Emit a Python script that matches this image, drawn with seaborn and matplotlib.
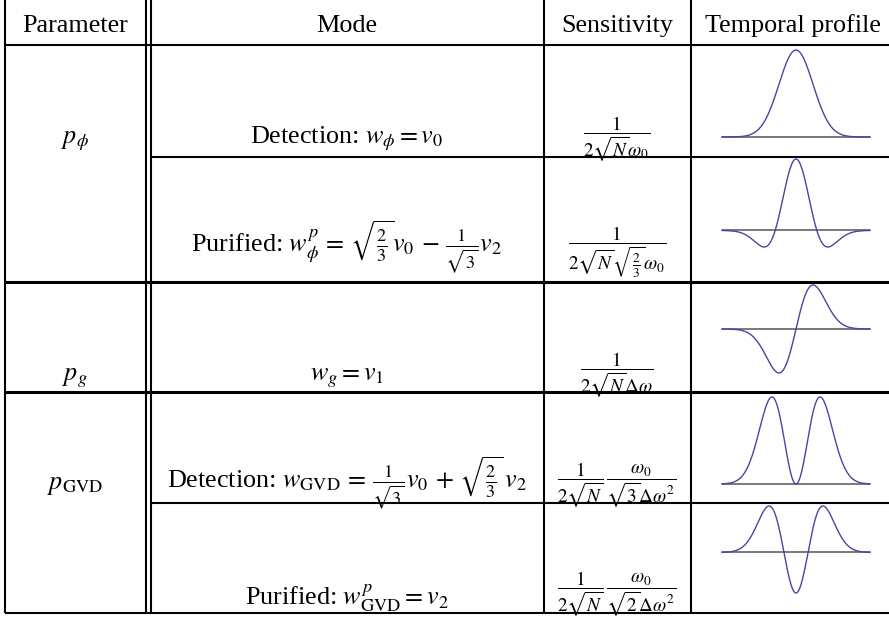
import numpy as np
import matplotlib
matplotlib.use("Agg")
import matplotlib.pyplot as plt
import seaborn as sns

# table content
headers = ["Parameter", "Mode", "Sensitivity", "Temporal profile"]
params = [r"$p_\phi$", r"$p_g$", r"$p_{\mathrm{GVD}}$"]
modes = [
    r"Detection: $w_\phi = v_0$",
    r"Purified: $w_\phi^p \,=\, \sqrt{\frac{2}{3}}v_0 \,-\, \frac{1}{\sqrt{3}}v_2$",
    r"$w_g = v_1$",
    r"Detection: $w_{\mathrm{GVD}} \,=\, \frac{1}{\sqrt{3}}v_0 \,+\, \sqrt{\frac{2}{3}}\,v_2$",
    r"Purified: $w^p_{\mathrm{GVD}} = v_2$",
]
sensitivity = [
    r"$\dfrac{1}{2\sqrt{N}\omega_0}$",
    r"$\dfrac{1}{2\sqrt{N}\sqrt{\frac{2}{3}}\omega_0}$",
    r"$\dfrac{1}{2\sqrt{N}\Delta\omega}$",
    r"$\dfrac{1}{2\sqrt{N}}\,\dfrac{\omega_0}{\sqrt{3}\Delta\omega^2}$",
    r"$\dfrac{1}{2\sqrt{N}}\,\dfrac{\omega_0}{\sqrt{2}\Delta\omega^2}$",
]
# mode weights on the Hermite-Gauss modes v0, v1, v2
w_v0 = [1.0, np.sqrt(2 / 3), 0.0, 1 / np.sqrt(3), 0.0]
w_v1 = [0.0, 0.0, 1.0, 0.0, 0.0]
w_v2 = [0.0, -1 / np.sqrt(3), 0.0, np.sqrt(2 / 3), 1.0]

sns.set_theme(style="white")
plt.rcParams["font.family"] = ["Liberation Serif", "DejaVu Serif"]
plt.rcParams["mathtext.fontset"] = "stix"
plt.rcParams["text.color"] = "black"

W, H = 889, 617
fig = plt.figure(figsize=(W / 100, H / 100), dpi=100)
ax = fig.add_axes([0, 0, 1, 1])
ax.set_xlim(0, W)
ax.set_ylim(H, 0)
ax.axis("off")

# table rules (pixel layout)
lw = 1.5
for x in [5, 146, 151, 544, 691]:
    ax.vlines(x, 0, 613, color="black", lw=lw)
ax.hlines(45, 5, W, color="black", lw=lw)
ax.hlines([282, 392], 5, W, color="black", lw=2.2)
ax.hlines([157, 503], 151, W, color="black", lw=lw)
ax.hlines(613, 5, W, color="black", lw=lw)

fs = 18.8
col_x = [75, 347, 617, 793]
for cx, h in zip(col_x, headers):
    ax.text(cx, 32, h, ha="center", va="baseline", fontsize=fs)

param_y = [143, 380, 489]
for p, y in zip(params, param_y):
    ax.text(75, y, p, ha="center", va="baseline", fontsize=fs)

mode_y = [143, 252, 380, 488, 605]
for m, y in zip(modes, mode_y):
    ax.text(347, y, m, ha="center", va="baseline", fontsize=fs)

sens_y = [139, 252, 375, 485, 594]
for s, y in zip(sensitivity, sens_y):
    ax.text(617, y, s, ha="center", va="center", fontsize=13.8)

# temporal profiles
t = np.linspace(-4.35, 4.35, 600)
g = np.exp(-t ** 2 / 2) / np.pi ** 0.25
v0 = g
v1 = np.sqrt(2) * t * g
v2 = (2 * t ** 2 - 1) / np.sqrt(2) * g

boxes = [(50, 137), (159, 247), (285, 373), (397, 484), (506, 593)]
for a0, a1, a2, (top, bot) in zip(w_v0, w_v1, w_v2, boxes):
    f = a0 * v0 + a1 * v1 + a2 * v2
    iax = fig.add_axes([722 / W, 1 - bot / H, 148 / W, (bot - top) / H])
    iax.axhline(0, color="#6e6e6e", lw=1.3, clip_on=False)
    sns.lineplot(x=t, y=f, ax=iax, color="#4646a6", lw=1.0, clip_on=False)
    iax.set_xlim(t.min(), t.max())
    iax.set_ylim(min(f.min(), 0), f.max())
    iax.axis("off")

fig.savefig("out.png", dpi=100)
